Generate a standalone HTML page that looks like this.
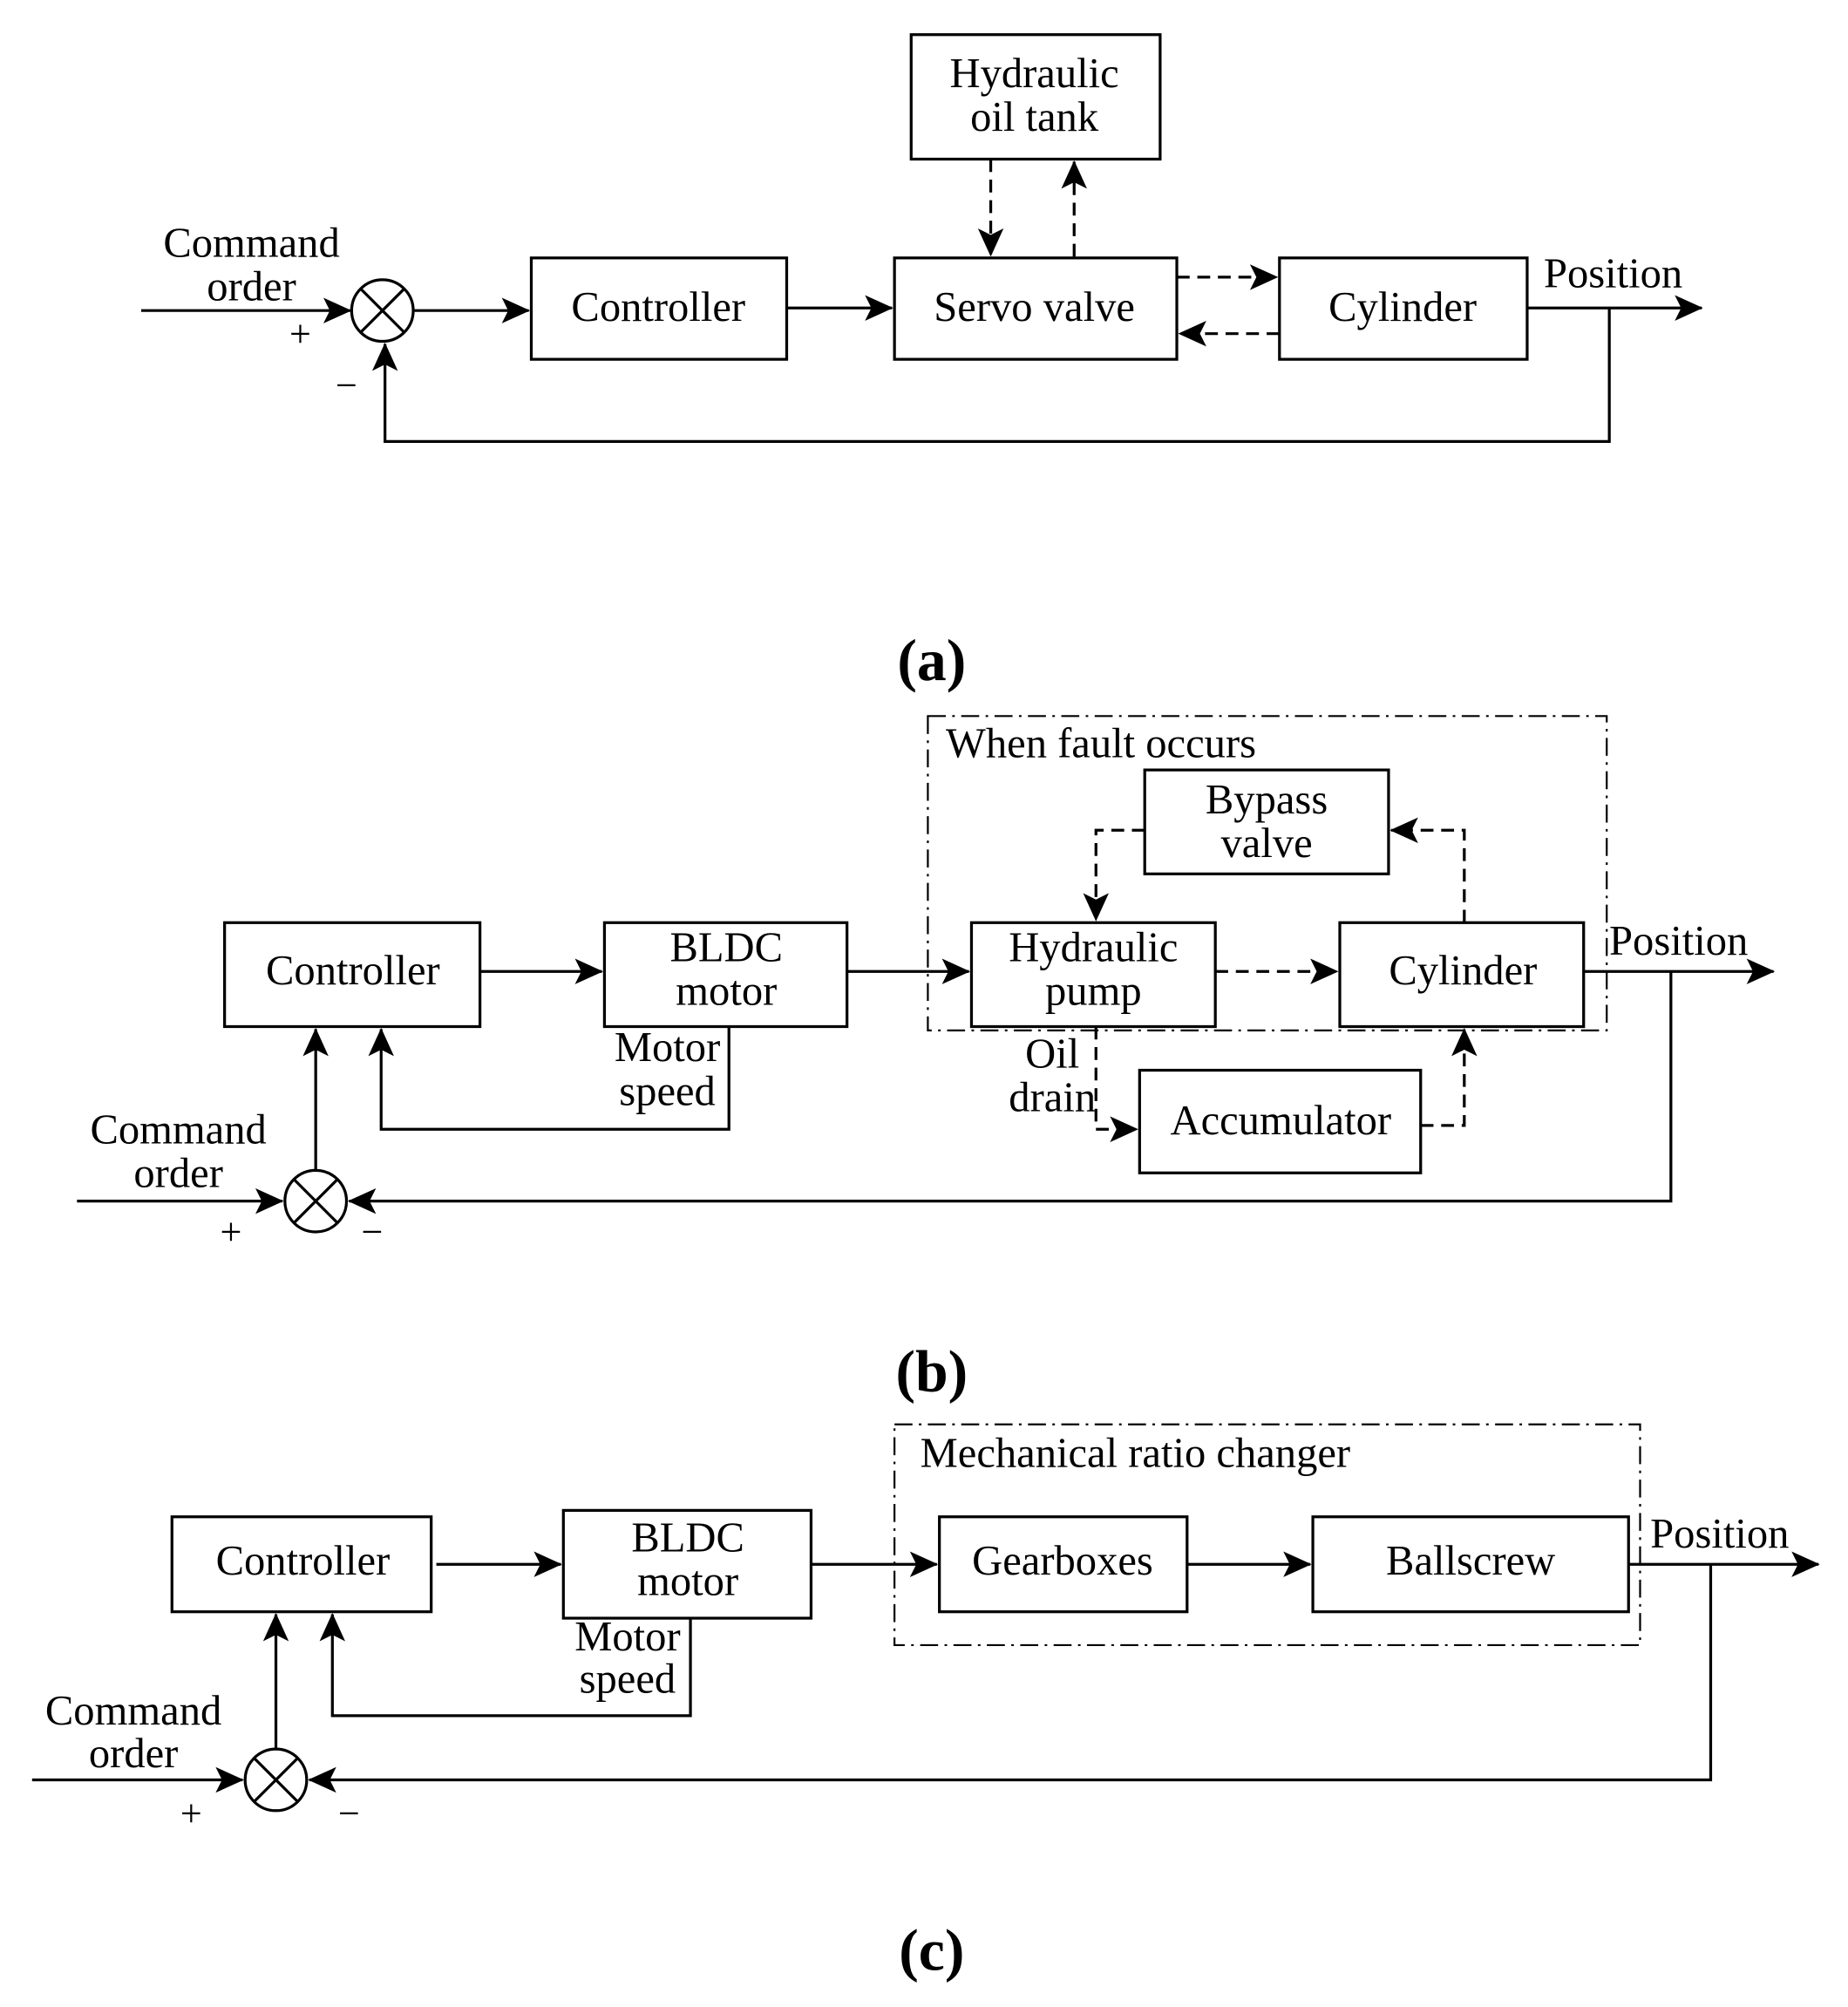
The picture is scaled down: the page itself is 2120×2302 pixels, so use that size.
<!DOCTYPE html>
<html><head><meta charset="utf-8"><style>html,body{margin:0;padding:0;background:#fff}svg{display:block}</style></head>
<body>
<svg width="2120" height="2302" viewBox="0 0 1440 1564" preserveAspectRatio="none" xmlns="http://www.w3.org/2000/svg" font-family="Liberation Serif, serif" font-size="33">
<defs>
<marker id="a" markerWidth="22" markerHeight="20" refX="21" refY="10" orient="auto" markerUnits="userSpaceOnUse"><path d="M0,0 L22,10 L0,20 L5,10 Z" fill="#000"/></marker>
</defs>
<g fill="none" stroke="#000" stroke-width="2.2">
<!-- (a) -->
<rect x="414" y="201" width="199" height="79"/>
<rect x="697" y="201" width="220" height="79"/>
<rect x="710" y="27" width="194" height="97"/>
<rect x="997" y="201" width="193" height="79"/>
<circle cx="298" cy="242" r="24"/>
<path d="M281,225 L315,259 M315,225 L281,259"/>
<path d="M110,242 H273" marker-end="url(#a)"/>
<path d="M322,242 H412" marker-end="url(#a)"/>
<path d="M613,240 H695" marker-end="url(#a)"/>
<path d="M1190,240 H1326" marker-end="url(#a)"/>
<path d="M1254,240 V344 H300 V268" marker-end="url(#a)"/>
<g stroke-dasharray="10,6">
<path d="M772,124 V199" marker-end="url(#a)"/>
<path d="M837,200 V126" marker-end="url(#a)"/>
<path d="M917,216 H995" marker-end="url(#a)"/>
<path d="M997,260 H919" marker-end="url(#a)"/>
</g>
<!-- (b) -->
<rect x="723" y="558" width="529" height="245" stroke-dasharray="14,5,2,5" stroke-width="1.5"/>
<rect x="175" y="719" width="199" height="81"/>
<rect x="471" y="719" width="189" height="81"/>
<rect x="757" y="719" width="190" height="81"/>
<rect x="1044" y="719" width="190" height="81"/>
<rect x="892" y="600" width="190" height="81"/>
<rect x="888" y="834" width="219" height="80"/>
<circle cx="246" cy="936" r="24"/>
<path d="M229,919 L263,953 M263,919 L229,953"/>
<path d="M374,757 H469" marker-end="url(#a)"/>
<path d="M660,757 H755" marker-end="url(#a)"/>
<path d="M1234,757 H1382" marker-end="url(#a)"/>
<path d="M568,800 V880 H297 V802" marker-end="url(#a)"/>
<path d="M60,936 H220" marker-end="url(#a)"/>
<path d="M1302,757 V936 H272" marker-end="url(#a)"/>
<path d="M246,912 V802" marker-end="url(#a)"/>
<g stroke-dasharray="10,6">
<path d="M947,757 H1042" marker-end="url(#a)"/>
<path d="M1141,719 V647 H1084" marker-end="url(#a)"/>
<path d="M892,647 H854 V717" marker-end="url(#a)"/>
<path d="M854,800 V880 H886" marker-end="url(#a)"/>
<path d="M1107,877 H1141 V802" marker-end="url(#a)"/>
</g>
<!-- (c) -->
<rect x="697" y="1110" width="581" height="172" stroke-dasharray="14,5,2,5" stroke-width="1.5"/>
<rect x="134" y="1182" width="202" height="74"/>
<rect x="439" y="1177" width="193" height="84"/>
<rect x="732" y="1182" width="193" height="74"/>
<rect x="1023" y="1182" width="246" height="74"/>
<circle cx="215" cy="1387" r="24"/>
<path d="M198,1370 L232,1404 M232,1370 L198,1404"/>
<path d="M340,1219 H437" marker-end="url(#a)"/>
<path d="M632,1219 H730" marker-end="url(#a)"/>
<path d="M925,1219 H1021" marker-end="url(#a)"/>
<path d="M1269,1219 H1417" marker-end="url(#a)"/>
<path d="M538,1261 V1337 H259 V1258" marker-end="url(#a)"/>
<path d="M25,1387 H189" marker-end="url(#a)"/>
<path d="M1333,1219 V1387 H241" marker-end="url(#a)"/>
<path d="M215,1363 V1258" marker-end="url(#a)"/>
</g>
<g fill="#000" text-anchor="middle">
<!-- (a) -->
<text x="196" y="200">Command</text><text x="196" y="234">order</text>
<text x="234" y="270" font-size="30">+</text><text x="270" y="310" font-size="30">−</text>
<text x="513" y="250">Controller</text>
<text x="806" y="250">Servo valve</text>
<text x="806" y="68">Hydraulic</text><text x="806" y="102">oil tank</text>
<text x="1093" y="250">Cylinder</text>
<text x="1257" y="224">Position</text>
<text x="726" y="530" font-size="46" font-weight="bold">(a)</text>
<!-- (b) -->
<text x="737" y="590" text-anchor="start">When fault occurs</text>
<text x="987" y="634">Bypass</text><text x="987" y="668">valve</text>
<text x="275" y="767">Controller</text>
<text x="566" y="749">BLDC</text><text x="566" y="783">motor</text>
<text x="852" y="749">Hydraulic</text><text x="852" y="783">pump</text>
<text x="1140" y="767">Cylinder</text>
<text x="1308" y="744">Position</text>
<text x="998" y="884">Accumulator</text>
<text x="520" y="827">Motor</text><text x="520" y="861">speed</text>
<text x="820" y="832">Oil</text><text x="820" y="866">drain</text>
<text x="139" y="891">Command</text><text x="139" y="925">order</text>
<text x="180" y="970" font-size="30">+</text><text x="290" y="970" font-size="30">−</text>
<text x="726" y="1084" font-size="46" font-weight="bold">(b)</text>
<!-- (c) -->
<text x="717" y="1143" text-anchor="start">Mechanical ratio changer</text>
<text x="236" y="1227">Controller</text>
<text x="536" y="1209">BLDC</text><text x="536" y="1243">motor</text>
<text x="828" y="1227">Gearboxes</text>
<text x="1146" y="1227">Ballscrew</text>
<text x="1340" y="1206">Position</text>
<text x="489" y="1286">Motor</text><text x="489" y="1319">speed</text>
<text x="104" y="1344">Command</text><text x="104" y="1377">order</text>
<text x="149" y="1423" font-size="30">+</text><text x="272" y="1423" font-size="30">−</text>
<text x="726" y="1535" font-size="46" font-weight="bold">(c)</text>
</g>
</svg>
</body></html>
